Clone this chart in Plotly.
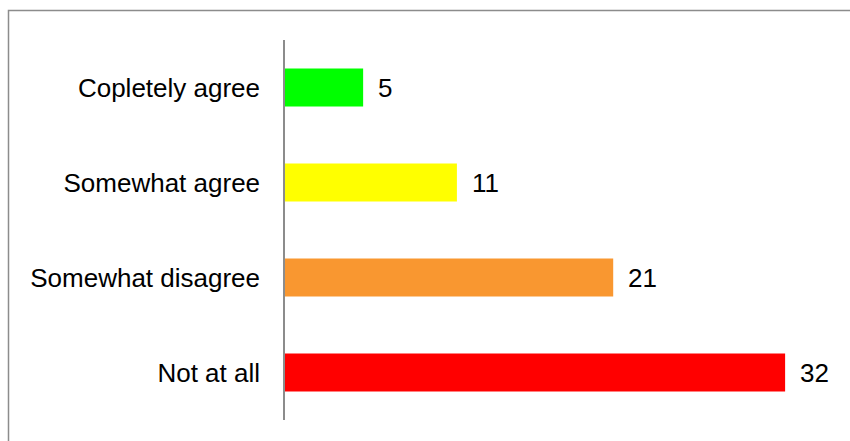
import plotly.graph_objects as go

# Survey responses
categories = ["Copletely agree", "Somewhat agree", "Somewhat disagree", "Not at all"]
counts = [5, 11, 21, 32]
bar_colors = ["#00FF00", "#FFFF00", "#F99730", "#FF0000"]

W, H = 850, 441
m_left, m_right, m_top, m_bottom = 285, 18, 40, 21
x_max = 35
font_family = "Liberation Sans, Arial, sans-serif"
text_size = 26

fig = go.Figure(
    go.Bar(
        x=counts,
        y=categories,
        orientation="h",
        marker=dict(color=bar_colors, line=dict(width=0)),
        hoverinfo="x+y",
    )
)

# Value labels to the right of each bar
for cat, val in zip(categories, counts):
    fig.add_annotation(
        x=val, y=cat, text=str(val), showarrow=False,
        xanchor="left", xshift=13,
        font=dict(family=font_family, size=text_size, color="#000000"),
    )

# Outer frame around the chart
plot_w = W - m_left - m_right
plot_h = H - m_top - m_bottom
fig.add_shape(
    type="rect", xref="paper", yref="paper",
    x0=(8.5 - m_left) / plot_w, x1=(W + 6 - m_left) / plot_w,
    y0=-(H + 6 - (H - m_bottom)) / plot_h, y1=1 + (m_top - 10.5) / plot_h,
    line=dict(color="#8C8C8C", width=1.5), fillcolor="rgba(0,0,0,0)",
    layer="below",
)

fig.update_layout(
    width=W, height=H,
    margin=dict(l=m_left, r=m_right, t=m_top, b=m_bottom, pad=0),
    paper_bgcolor="#FFFFFF", plot_bgcolor="#FFFFFF",
    bargap=0.6,
    showlegend=False,
    font=dict(family=font_family, color="#000000"),
    xaxis=dict(range=[0, x_max], visible=False, fixedrange=True),
    yaxis=dict(
        autorange="reversed",
        showline=True, linecolor="#8C8C8C", linewidth=1.5,
        showgrid=False, zeroline=False,
        ticks="", ticklabelstandoff=18,
        tickfont=dict(size=text_size, color="#000000"),
        fixedrange=True,
    ),
)

fig.write_html("out.html")
